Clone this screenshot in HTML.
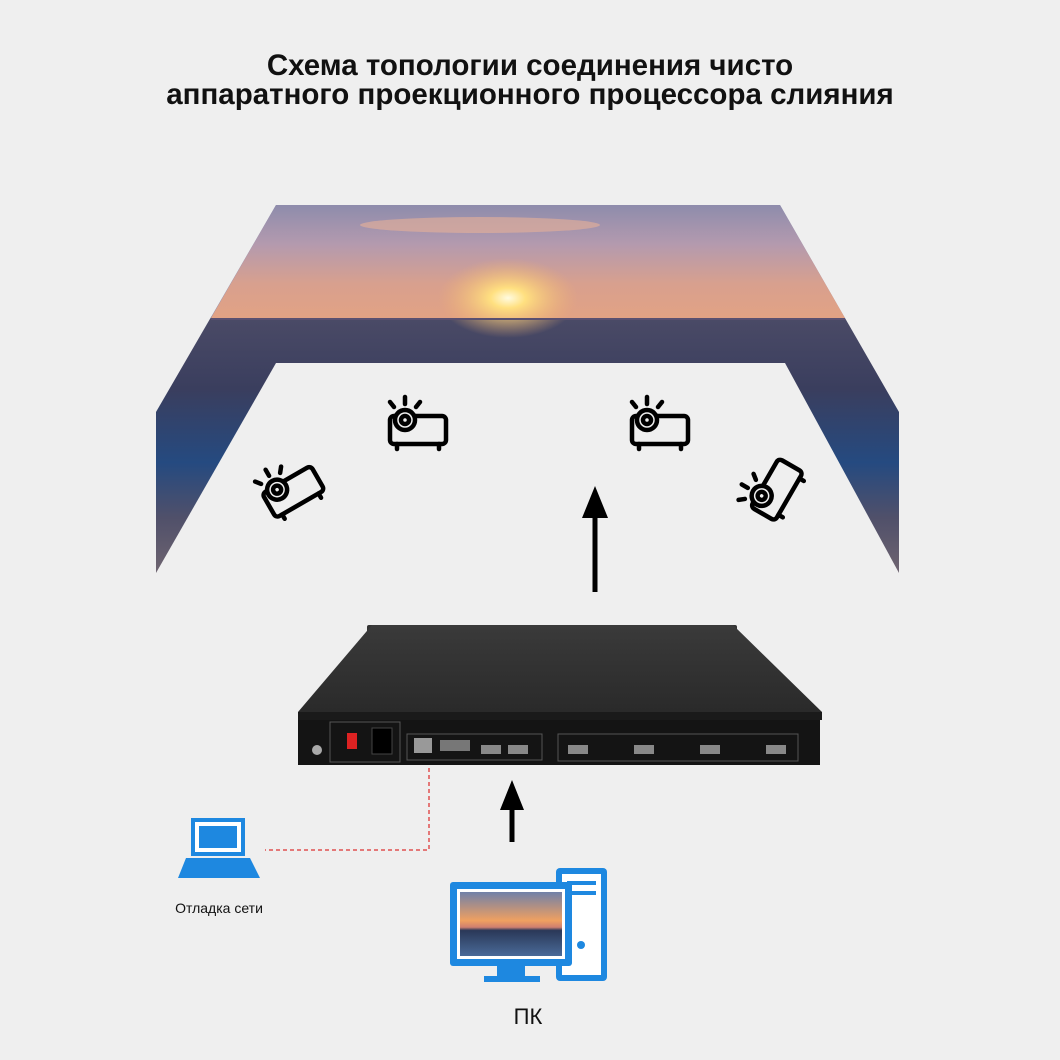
<!DOCTYPE html>
<html><head><meta charset="utf-8"><style>
body{margin:0;width:1060px;height:1060px;background:#efefef;overflow:hidden;font-family:"Liberation Sans",sans-serif}
.t{position:absolute;left:0;width:1060px;text-align:center;font-weight:bold;font-size:29.5px;line-height:29px;color:#111}
</style></head><body>
<div class="t" style="top:51px">Схема топологии соединения чисто<br>аппаратного проекционного процессора слияния</div>
<svg width="1060" height="1060" style="position:absolute;left:0;top:0">
<defs>
<linearGradient id="sky" x1="0" y1="0" x2="0" y2="1">
<stop offset="0" stop-color="#8e8cac"/><stop offset="0.35" stop-color="#b49aae"/><stop offset="0.7" stop-color="#d8a08e"/><stop offset="1" stop-color="#e2a284"/>
</linearGradient>
<linearGradient id="sea" x1="0" y1="0" x2="0" y2="1">
<stop offset="0" stop-color="#8e8cac"/><stop offset="0.3" stop-color="#8e8cac"/><stop offset="0.31" stop-color="#4a4a66"/><stop offset="0.5" stop-color="#3a3e5e"/><stop offset="0.7" stop-color="#254a80"/><stop offset="0.85" stop-color="#50506a"/><stop offset="1" stop-color="#6e6470"/>
</linearGradient>
<linearGradient id="top" x1="0" y1="0" x2="0" y2="1"><stop offset="0" stop-color="#3a3a3a"/><stop offset="1" stop-color="#2a2a2a"/></linearGradient>
<radialGradient id="sun" cx="0.5" cy="0.5" r="0.5"><stop offset="0" stop-color="#fffbe0"/><stop offset="0.25" stop-color="#ffe080"/><stop offset="1" stop-color="#f0b070" stop-opacity="0"/></radialGradient>
<g id="pj" fill="none" stroke="#000" stroke-width="4.5" stroke-linecap="round">
<rect x="-27" y="-9" width="56" height="28" rx="4"/>
<circle cx="-12" cy="-5" r="10" fill="#efefef"/><circle cx="-12" cy="-5" r="4"/>
<line x1="-12" y1="-21" x2="-12" y2="-28"/><line x1="-23" y1="-18" x2="-27" y2="-23"/><line x1="-1" y1="-18" x2="3" y2="-23"/>
<line x1="-20" y1="19" x2="-20" y2="24"/><line x1="22" y1="19" x2="22" y2="24"/>
</g>
</defs>
<polygon points="276,205 780,205 899,412 899,573 156,573 156,412" fill="url(#sea)"/>
<polygon points="276,205 780,205 845,318 211,318" fill="url(#sky)"/>
<ellipse cx="480" cy="225" rx="120" ry="8" fill="#e8b098" opacity="0.6"/>
<ellipse cx="508" cy="298" rx="70" ry="40" fill="url(#sun)"/>
<rect x="211" y="318" width="634" height="2" fill="#5a5070"/>
<polygon points="276,363 785,363 899,573 156,573" fill="#efefef"/>
<use href="#pj" x="417" y="425"/>
<use href="#pj" x="659" y="425"/>
<use href="#pj" transform="translate(290,488) rotate(-30)"/>
<use href="#pj" transform="translate(772,488) rotate(-60)"/>
<line x1="595" y1="592" x2="595" y2="515" stroke="#000" stroke-width="5"/>
<polygon points="582,518 608,518 595,486" fill="#000"/>
<!-- device -->
<rect x="367" y="625" width="14" height="10" rx="2" fill="#333"/>
<rect x="723" y="625" width="14" height="10" rx="2" fill="#333"/>
<polygon points="372,625 733,625 822,712 298,712" fill="url(#top)"/>
<rect x="298" y="712" width="524" height="8" fill="#1a1a1a"/>
<rect x="298" y="720" width="522" height="45" fill="#141414"/>
<rect x="330" y="722" width="70" height="40" fill="none" stroke="#555" stroke-width="1"/>
<rect x="347" y="733" width="10" height="16" fill="#d22"/>
<rect x="372" y="728" width="20" height="26" fill="#000" stroke="#444"/>
<circle cx="317" cy="750" r="5" fill="#aaa"/>
<rect x="407" y="734" width="135" height="26" fill="none" stroke="#555"/>
<rect x="414" y="738" width="18" height="15" fill="#999"/>
<rect x="440" y="740" width="30" height="11" fill="#777"/>
<rect x="481" y="745" width="20" height="9" fill="#888"/>
<rect x="508" y="745" width="20" height="9" fill="#888"/>
<rect x="558" y="734" width="240" height="27" fill="none" stroke="#555"/>
<rect x="568" y="745" width="20" height="9" fill="#888"/>
<rect x="634" y="745" width="20" height="9" fill="#888"/>
<rect x="700" y="745" width="20" height="9" fill="#888"/>
<rect x="766" y="745" width="20" height="9" fill="#888"/>
<!-- arrows & lines -->
<line x1="512" y1="842" x2="512" y2="808" stroke="#000" stroke-width="5"/>
<polygon points="500,810 524,810 512,780" fill="#000"/>
<polyline points="429,768 429,850 265,850" fill="none" stroke="#e05050" stroke-width="1.5" stroke-dasharray="4,3"/>
<!-- laptop -->
<rect x="191" y="818" width="54" height="38" fill="#1e88e0"/>
<rect x="195" y="822" width="46" height="30" fill="#fff"/>
<rect x="199" y="826" width="38" height="22" fill="#1e88e0"/>
<polygon points="186,858 250,858 260,878 178,878" fill="#1e88e0"/>
<!-- PC -->
<rect x="556" y="868" width="51" height="113" rx="4" fill="#1e88e0"/>
<rect x="562" y="874" width="39" height="101" fill="#fff"/>
<rect x="567" y="881" width="29" height="4" fill="#1e88e0"/>
<rect x="567" y="891" width="29" height="4" fill="#1e88e0"/>
<circle cx="581" cy="945" r="4" fill="#1e88e0"/>
<rect x="450" y="882" width="122" height="84" rx="3" fill="#1e88e0"/>
<rect x="457" y="889" width="108" height="70" fill="#fff"/>
<defs><linearGradient id="mini" x1="0" y1="0" x2="0" y2="1"><stop offset="0" stop-color="#7080a8"/><stop offset="0.45" stop-color="#f0a060"/><stop offset="0.55" stop-color="#d08070"/><stop offset="0.6" stop-color="#2a3858"/><stop offset="1" stop-color="#4a6a98"/></linearGradient></defs>
<rect x="460" y="892" width="102" height="64" fill="url(#mini)"/>
<rect x="497" y="966" width="28" height="10" fill="#1e88e0"/>
<rect x="484" y="976" width="56" height="6" fill="#1e88e0"/>
<text x="219" y="913" font-size="14" text-anchor="middle" fill="#111" font-family="Liberation Sans">Отладка сети</text>
<text x="528" y="1024" font-size="22" text-anchor="middle" fill="#111" font-family="Liberation Sans">ПК</text>
</svg>
</body></html>
